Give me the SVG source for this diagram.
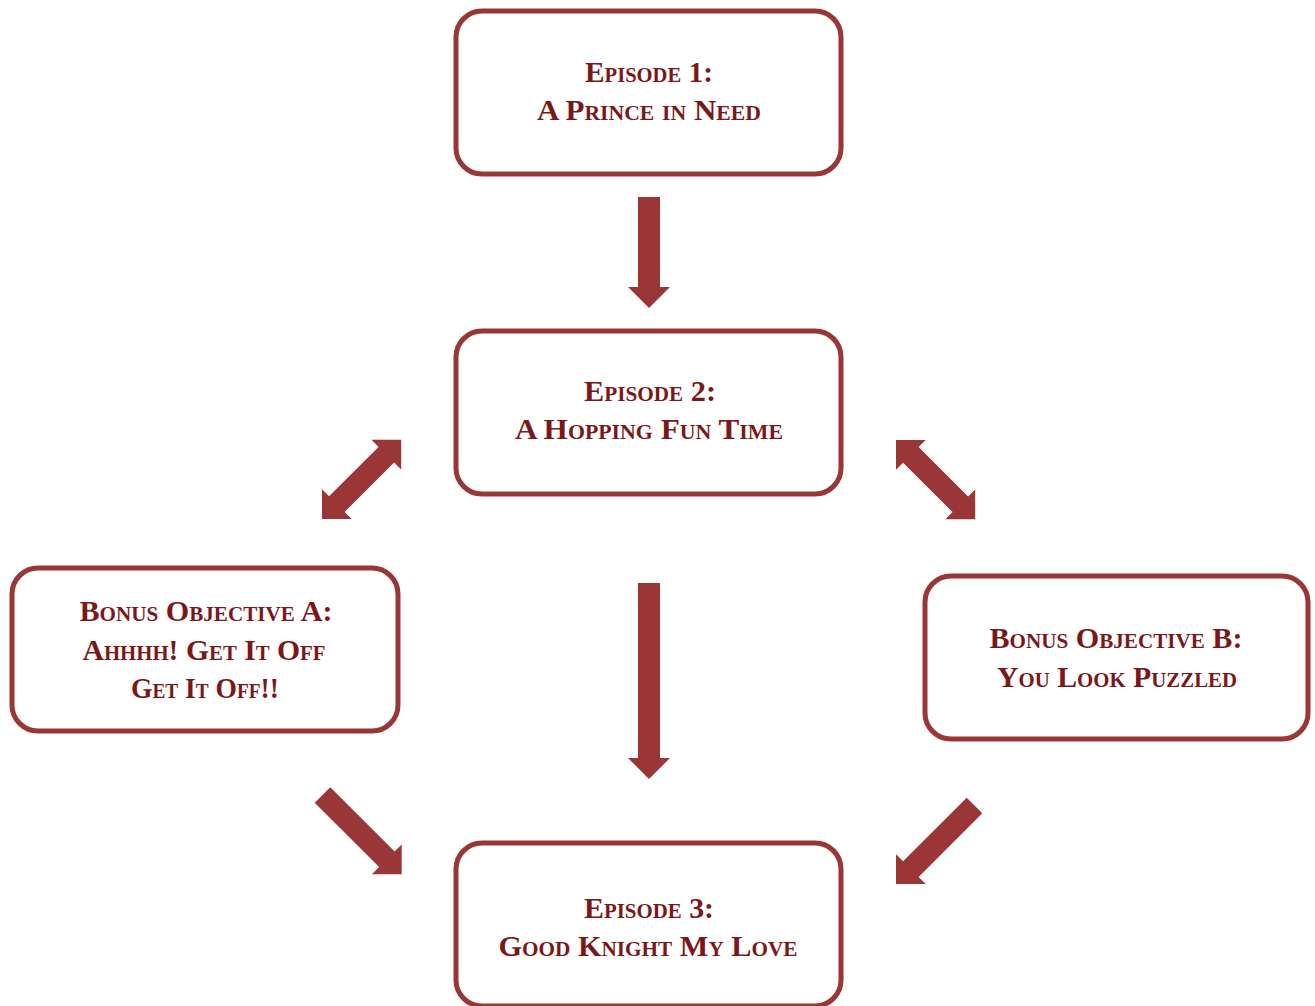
<svg xmlns="http://www.w3.org/2000/svg" width="1315" height="1006" viewBox="0 0 1315 1006">
<style>
.box{fill:#ffffff;stroke:#9a3636;stroke-width:5}
.arr{fill:#9a3636}
text{font-family:"Liberation Serif","DejaVu Serif",serif;font-weight:bold;font-variant:small-caps;font-size:30px;fill:#7c1719;text-anchor:middle}
</style>
<rect width="1315" height="1006" fill="#ffffff"/>
<g id="connectors">
<path class="arr" transform="translate(649,197) rotate(90)" d="M0,-11 L90,-11 L90,-21 L111,0 L90,21 L90,11 L0,11 Z"/>
<path class="arr" transform="translate(649,583) rotate(90)" d="M0,-11 L175,-11 L175,-21 L196,0 L175,21 L175,11 L0,11 Z"/>
<path class="arr" transform="translate(322,519) rotate(-45)" d="M0,0 L21,-21 L21,-11 L91,-11 L91,-21 L112,0 L91,21 L91,11 L21,11 L21,21 Z"/>
<path class="arr" transform="translate(896,440) rotate(45)" d="M0,0 L21,-21 L21,-11 L91,-11 L91,-21 L112,0 L91,21 L91,11 L21,11 L21,21 Z"/>
<path class="arr" transform="translate(322.5,795) rotate(45)" d="M0,-11 L91,-11 L91,-21 L112,0 L91,21 L91,11 L0,11 Z"/>
<path class="arr" transform="translate(974.5,805.5) rotate(135)" d="M0,-11 L90,-11 L90,-21 L111,0 L90,21 L90,11 L0,11 Z"/>
</g>
<g id="episode1">
<rect class="box" x="456" y="11" width="385" height="163" rx="26"/>
<text x="649" y="82" textLength="128" lengthAdjust="spacingAndGlyphs">Episode 1:</text>
<text x="649" y="120" textLength="224" lengthAdjust="spacingAndGlyphs">A Prince in Need</text>
</g>
<g id="episode2">
<rect class="box" x="456" y="331" width="385" height="163" rx="26"/>
<text x="650" y="401" textLength="132" lengthAdjust="spacingAndGlyphs">Episode 2:</text>
<text x="649" y="439" textLength="268" lengthAdjust="spacingAndGlyphs">A Hopping Fun Time</text>
</g>
<g id="bonusA">
<rect class="box" x="12" y="568" width="386" height="163" rx="26"/>
<text x="206" y="621" textLength="253" lengthAdjust="spacingAndGlyphs">Bonus Objective A:</text>
<text x="204" y="660" textLength="243" lengthAdjust="spacingAndGlyphs">Ahhhh! Get It Off</text>
<text x="205" y="698" textLength="148" lengthAdjust="spacingAndGlyphs">Get It Off!!</text>
</g>
<g id="bonusB">
<rect class="box" x="925" y="576" width="383" height="163" rx="26"/>
<text x="1116" y="648" textLength="253" lengthAdjust="spacingAndGlyphs">Bonus Objective B:</text>
<text x="1117" y="687" textLength="240" lengthAdjust="spacingAndGlyphs">You Look Puzzled</text>
</g>
<g id="episode3">
<rect class="box" x="456" y="843" width="385" height="163" rx="26"/>
<text x="649" y="918" textLength="130" lengthAdjust="spacingAndGlyphs">Episode 3:</text>
<text x="648" y="956" textLength="299" lengthAdjust="spacingAndGlyphs">Good Knight My Love</text>
</g>
</svg>
